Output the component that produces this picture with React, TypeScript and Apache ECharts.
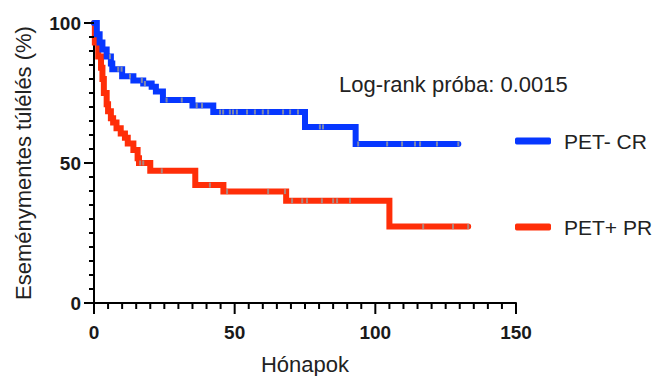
import React, { useEffect, useRef } from "react";
import * as echarts from "echarts";

const blueName = "PET- CR";
const redName = "PET+ PR";

const blueTimes = [0, 1, 2, 3, 4.5, 6, 6.5, 10, 14, 17.5, 20.5, 22, 24.5, 35, 42.4, 75, 93];
const blueSurv = [100, 96, 93, 90.5, 88, 85.5, 83.5, 81, 79.5, 78.4, 77.2, 75.5, 72.5, 70.5, 68.2, 62.9, 56.8];
const blueEnd = 129.5;
const blueCensored = [5.7, 8.6, 9.8, 12.8, 17, 18.1, 25.8, 31.2, 36.5, 38.4, 44.8, 45.9, 48.3, 49.4, 50.8, 54.4, 57.2, 60, 61.9, 67.2, 69.7, 72.5, 80.3, 81.4, 93.9, 104.2, 109.5, 114.1, 115.9, 121.9, 129.5];

const redTimes = [0, 0.3, 1.5, 2.5, 3, 3.5, 4.5, 5, 6, 6.8, 8, 9.5, 11, 12, 14, 15.5, 16, 20, 36, 46, 68.3, 105];
const redSurv = [100, 93, 88, 84, 80, 75, 71, 68.5, 66, 64.5, 62.4, 60.5, 59, 57, 54.6, 51.7, 50, 47.2, 42.1, 39.8, 36.5, 27.3];
const redEnd = 133;
const redCensored = [16.4, 17.5, 24.1, 41.2, 47.3, 61.9, 67.9, 70.4, 74, 75.7, 81, 85, 86.4, 91, 117, 127.6, 133];

const xTicks = [0, 50, 100, 150];
const yTicks = [0, 50, 100];
const minorStep = 5;
const majorStep = 50;

const BLUE = "#0637ff";
const RED = "#ff2e08";
const GREY = "#9a9a9a";
const TICK = "#000000";

function stepData(times: number[], surv: number[], end: number) {
  const pts = times.map((t, i) => [t, surv[i]]);
  pts.push([end, surv[surv.length - 1]]);
  return pts;
}

function survAt(times: number[], surv: number[], t: number) {
  let s = surv[0];
  for (let i = 0; i < times.length; i++) {
    if (times[i] <= t) s = surv[i];
  }
  return s;
}

function censorData(times: number[], surv: number[], cens: number[]) {
  return cens.map((t) => [t, survAt(times, surv, t)]);
}

function tickValues(min: number, max: number) {
  const out: number[] = [];
  for (let v = min; v <= max + 1e-9; v += minorStep) out.push(v);
  return out;
}

export default function App() {
  const ref = useRef<HTMLDivElement>(null);
  useEffect(() => {
    if (!ref.current) return;
    const chart = echarts.init(ref.current, null, { renderer: "svg" });
    const font = "'Liberation Sans', Arial, sans-serif";
    const xMin = xTicks[0];
    const xMax = xTicks[xTicks.length - 1];
    const yMin = yTicks[0];
    const yMax = yTicks[yTicks.length - 1];
    const isMajor = (v: number) => Math.abs(v % majorStep) < 1e-6;
    chart.setOption({
      animation: false,
      grid: { left: 94, right: 146, top: 23, bottom: 73, containLabel: false, outerBoundsMode: "none" },
      xAxis: {
        type: "value",
        min: xMin,
        max: xMax,
        interval: majorStep,
        name: "Hónapok",
        nameLocation: "middle",
        nameGap: 50,
        nameTextStyle: { fontFamily: font, fontSize: 22, color: "#222" },
        axisLine: { show: true, lineStyle: { color: "#000", width: 2 } },
        axisTick: { show: false },
        splitLine: { show: false },
        axisLabel: { fontFamily: font, fontSize: 19, fontWeight: "bold", color: "#1a1a1a", margin: 20 },
      },
      yAxis: {
        type: "value",
        min: yMin,
        max: yMax,
        interval: majorStep,
        name: "Eseménymentes túlélés (%)",
        nameLocation: "middle",
        nameGap: 60,
        nameTextStyle: { fontFamily: font, fontSize: 22, color: "#222" },
        axisLine: { show: true, lineStyle: { color: "#000", width: 2 } },
        axisTick: { show: false },
        splitLine: { show: false },
        axisLabel: { fontFamily: font, fontSize: 19, fontWeight: "bold", color: "#1a1a1a", margin: 13 },
      },
      legend: {
        orient: "vertical",
        left: 515,
        top: 130,
        padding: 0,
        itemWidth: 36,
        itemHeight: 7,
        itemGap: 64,
        icon: "roundRect",
        data: [blueName, redName],
        textStyle: { fontFamily: font, fontSize: 21, color: "#222", padding: [0, 0, 0, 8], lineHeight: 22 },
      },
      series: [
        {
          name: redName,
          type: "line",
          step: "end",
          data: stepData(redTimes, redSurv, redEnd),
          showSymbol: false,
          symbol: "none",
          color: RED,
          lineStyle: { color: RED, width: 6, cap: "round", join: "miter" },
          z: 2,
        },
        {
          name: blueName,
          type: "line",
          step: "end",
          data: stepData(blueTimes, blueSurv, blueEnd),
          showSymbol: false,
          symbol: "none",
          color: BLUE,
          lineStyle: { color: BLUE, width: 6, cap: "round", join: "miter" },
          z: 3,
        },
        {
          name: "redCensor",
          type: "scatter",
          data: censorData(redTimes, redSurv, redCensored),
          symbol: "rect",
          symbolSize: [2, 5],
          itemStyle: { color: GREY },
          z: 4,
        },
        {
          name: "blueCensor",
          type: "scatter",
          data: censorData(blueTimes, blueSurv, blueCensored),
          symbol: "rect",
          symbolSize: [2, 5],
          itemStyle: { color: GREY },
          z: 5,
        },
      ],
    });

    const tickEls: any[] = [];
    tickValues(xMin, xMax).forEach((v) => {
      const p = chart.convertToPixel({ gridIndex: 0 }, [v, yMin]) as number[];
      const len = isMajor(v) ? 11 : 6;
      tickEls.push({
        type: "line",
        silent: true,
        z: 10,
        shape: { x1: p[0], y1: p[1], x2: p[0], y2: p[1] + len },
        style: { stroke: TICK, lineWidth: 2 },
      });
    });
    tickValues(yMin, yMax).forEach((v) => {
      const p = chart.convertToPixel({ gridIndex: 0 }, [xMin, v]) as number[];
      const len = isMajor(v) ? 10 : 5;
      tickEls.push({
        type: "line",
        silent: true,
        z: 10,
        shape: { x1: p[0] - len, y1: p[1], x2: p[0], y2: p[1] },
        style: { stroke: TICK, lineWidth: 2 },
      });
    });
    chart.setOption({
      graphic: [
        {
          type: "text",
          left: 339,
          top: 73,
          style: { text: "Log-rank próba: 0.0015", fontFamily: font, fontSize: 22, fill: "#222" },
        },
        ...tickEls,
      ],
    });
    return () => chart.dispose();
  }, []);
  return <div ref={ref} style={{ width: 662, height: 376, position: "absolute", left: 0, top: 0 }} />;
}
